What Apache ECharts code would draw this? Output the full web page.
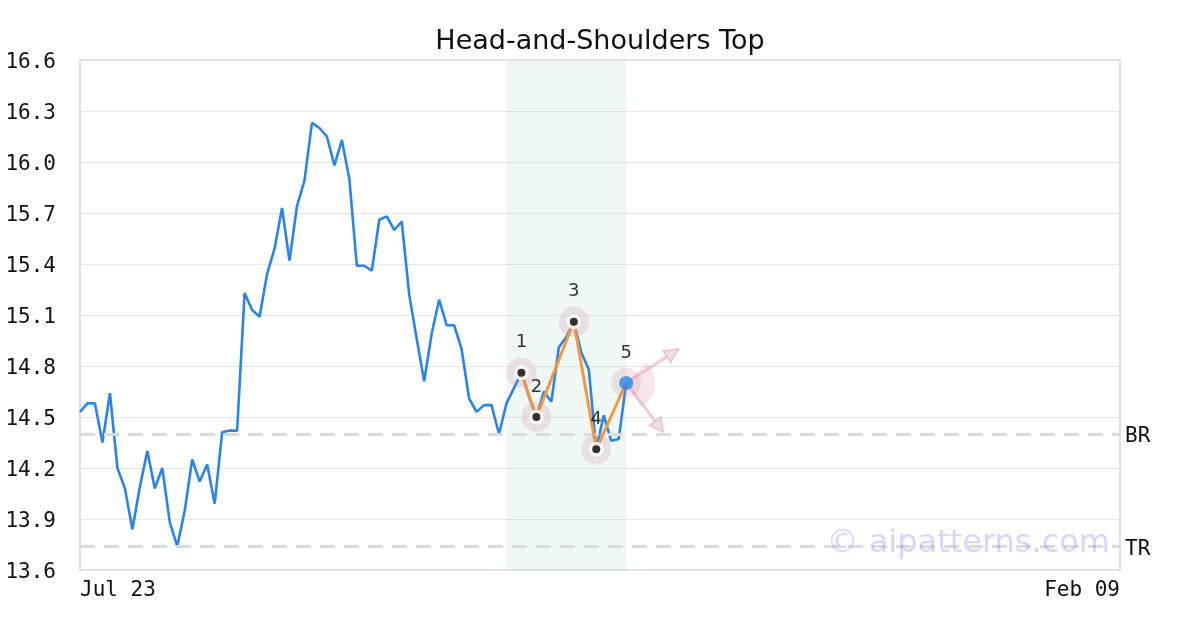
<!DOCTYPE html>
<html>
<head>
<meta charset="utf-8">
<script src="https://cdn.jsdelivr.net/npm/echarts@6/dist/echarts.min.js"></script>
<style>html,body{margin:0;padding:0;background:#fff}#c{width:1200px;height:630px}</style>
</head>
<body>
<div id="c"></div>
<script>
const title = 'Head-and-Shoulders Top';
const categoryCount = 140;
const tickLabels = ['Jul 23', 'Feb 09'];
const prices = [14.53,14.58,14.58,14.35,14.64,14.20,14.08,13.84,14.09,14.30,
  14.08,14.20,13.88,13.74,13.95,14.25,14.12,14.22,13.99,14.41,
  14.42,14.42,15.23,15.13,15.09,15.34,15.49,15.73,15.42,15.74,
  15.89,16.23,16.20,16.15,15.98,16.13,15.90,15.39,15.39,15.36,
  15.66,15.68,15.60,15.65,15.22,14.96,14.71,14.99,15.19,15.04,
  15.04,14.90,14.61,14.53,14.57,14.57,14.40,14.58,14.67,14.76,
  14.62,14.50,14.65,14.59,14.91,14.97,15.06,14.88,14.78,14.31,
  14.51,14.36,14.37,14.70];
const pivotIdx = [59, 61, 66, 69, 73];
const pivotVal = [14.76, 14.50, 15.06, 14.31, 14.70];
const pivotLabels = ['1', '2', '3', '4', '5'];
const zoneStart = 57, zoneEnd = 73;
const levelBR = 14.40, levelTR = 13.74;
const arrowTargets = [[79.5, 14.90], [77.5, 14.41]];
const yTicks = {min: 13.6, max: 16.6, interval: 0.3};

const categories = Array.from({length: categoryCount}, (_, i) => String(i));
const pivots = pivotIdx.map((x, i) => [x, pivotVal[i]]);
const lastPivot = pivots[pivots.length - 1];
const mono = 'DejaVu Sans Mono';

const chart = echarts.init(document.getElementById('c'), null, {renderer: 'canvas'});
chart.setOption({
  animation: false,
  backgroundColor: '#fff',
  title: {text: title, left: 'center', top: 23, textStyle: {fontFamily: 'DejaVu Sans', fontSize: 27, fontWeight: 'normal', color: '#111'}},
  grid: {left: 80, right: 80, top: 60, bottom: 60, show: true, borderColor: '#e0e0e0', borderWidth: 2, backgroundColor: 'transparent'},
  xAxis: {
    type: 'category', data: categories, boundaryGap: false,
    axisLine: {show: false}, axisTick: {show: false}, splitLine: {show: false},
    axisLabel: {
      interval: (i) => i === 0 || i === categoryCount - 1,
      formatter: (v, i) => i === 0 ? tickLabels[0] : (i === categoryCount - 1 ? tickLabels[1] : ''),
      alignMinLabel: 'left', alignMaxLabel: 'right',
      fontFamily: mono, fontSize: 21, color: '#111', margin: 10
    }
  },
  yAxis: {
    type: 'value', min: yTicks.min, max: yTicks.max, interval: yTicks.interval,
    axisLine: {show: false}, axisTick: {show: false},
    splitLine: {lineStyle: {color: '#e6e6e6', width: 1}},
    axisLabel: {
      formatter: (v) => '{a|' + v.toFixed(1) + '}', margin: 24,
      rich: {a: {fontFamily: mono, fontSize: 21, color: '#111', padding: [6, 0, 0, 0]}}
    }
  },
  graphic: [{
    type: 'text', right: 90, top: 528, z: 100,
    style: {text: '© aipatterns.com', font: '32px "DejaVu Sans"', fill: 'rgba(110,110,255,0.28)'}
  }],
  series: [
    {
      type: 'line', data: prices, showSymbol: false, symbol: 'none',
      lineStyle: {color: '#2b84e6', width: 2.6}, z: 3,
      markArea: {silent: true, itemStyle: {color: 'rgba(205,232,220,0.32)'}, data: [[{xAxis: zoneStart}, {xAxis: zoneEnd}]]},
      markLine: {
        silent: true, symbol: 'none',
        lineStyle: {type: [15, 9], color: '#dcdcdc', width: 3},
        label: {position: 'end', fontFamily: mono, fontSize: 21, color: '#111', distance: 5, offset: [0, 3]},
        data: [
          {yAxis: levelBR, label: {formatter: 'BR'}},
          {yAxis: levelTR, label: {formatter: 'TR'}}
        ]
      }
    },
    {
      type: 'custom', z: 4,
      data: [[lastPivot[0], lastPivot[1]]],
      renderItem: (params, api) => {
        const c = api.coord([api.value(0), api.value(1)]);
        const children = [{
          type: 'sector',
          shape: {cx: c[0], cy: c[1], r0: 0, r: 29, startAngle: -Math.PI * 0.25, endAngle: Math.PI * 0.32},
          style: {fill: 'rgba(220,140,165,0.22)'}
        }];
        arrowTargets.forEach(t => {
          const p = api.coord(t);
          const ang = Math.atan2(p[1] - c[1], p[0] - c[0]);
          const hl = 14, hw = 7;
          const bx = p[0] - hl * Math.cos(ang), by = p[1] - hl * Math.sin(ang);
          const nx = -Math.sin(ang), ny = Math.cos(ang);
          children.push({type: 'line', shape: {x1: c[0], y1: c[1], x2: bx, y2: by}, style: {stroke: 'rgba(228,165,185,0.55)', lineWidth: 3}});
          children.push({type: 'polygon', shape: {points: [[p[0], p[1]], [bx + nx * hw, by + ny * hw], [bx - nx * hw, by - ny * hw]]}, style: {fill: 'rgba(228,165,185,0.4)', stroke: 'rgba(228,165,185,0.6)', lineWidth: 1.5}});
        });
        return {type: 'group', children};
      }
    },
    {
      type: 'line', data: pivots, symbol: 'none', z: 5,
      lineStyle: {color: '#f4993e', width: 3}
    },
    {
      type: 'scatter', data: pivots, symbolSize: 30, z: 6,
      itemStyle: {color: 'rgba(205,130,155,0.26)'}
    },
    {
      type: 'scatter', data: pivots.slice(0, 4), symbolSize: 15, z: 7,
      itemStyle: {color: '#fff'}
    },
    {
      type: 'scatter', data: pivots.slice(0, 4), symbolSize: 8, z: 8,
      itemStyle: {color: '#000'}
    },
    {
      type: 'scatter', data: [lastPivot], symbolSize: 14, z: 8,
      itemStyle: {color: '#2b84e6'}
    },
    {
      type: 'scatter', data: pivots, symbolSize: 1, z: 9,
      itemStyle: {color: 'rgba(0,0,0,0)'},
      label: {show: true, position: 'inside', offset: [0, -30], formatter: (p) => pivotLabels[p.dataIndex], fontFamily: 'DejaVu Sans', fontSize: 18, color: '#000'}
    }
  ]
});
</script>
</body>
</html>
